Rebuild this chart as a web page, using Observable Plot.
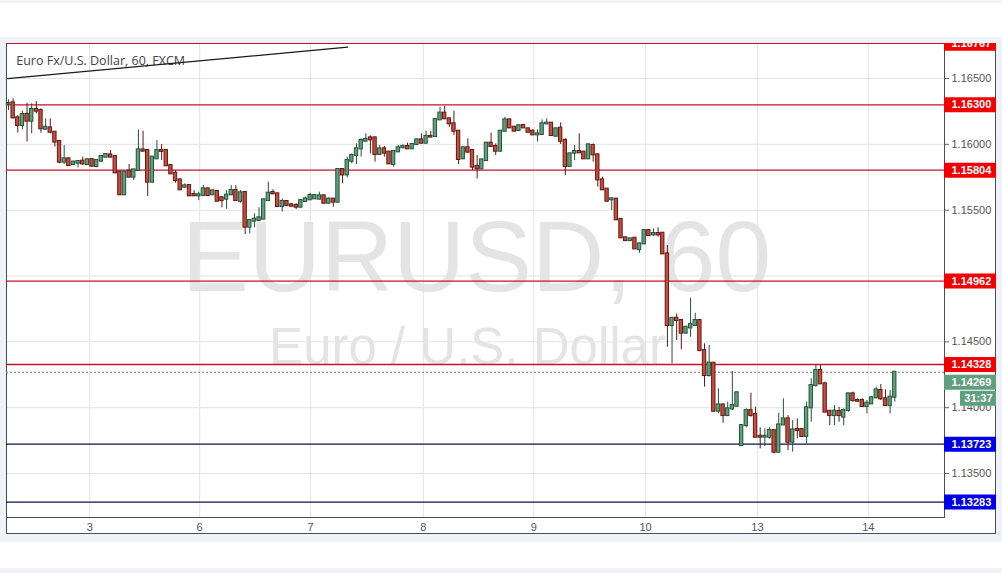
<!DOCTYPE html>
<html><head><meta charset="utf-8">
<script src="https://cdn.jsdelivr.net/npm/d3@7"></script>
<script src="https://cdn.jsdelivr.net/npm/@observablehq/plot@0.6"></script>
<style>
html,body{margin:0;padding:0;background:#eff2f6;}
#wrap{position:relative;width:1002px;height:573px;overflow:hidden;background:#eff2f6;}
.strip{position:absolute;left:0;width:1002px;background:#fff;}
#box{position:absolute;left:6px;top:43px;width:988px;height:489px;border:1px solid #4d4d4d;background:#fff;}
#chart{position:absolute;left:0;top:43px;}
</style></head><body>
<div id="wrap">
<div class="strip" style="top:3px;height:34px"></div>
<div class="strip" style="top:542px;height:26px"></div>
<div id="box"></div>
<div id="chart"></div>
</div>
<script>
// Hourly EUR/USD candles (FXCM, 60)
const opens = [
1.16305,1.16315,1.16201,1.16143,1.16227,1.16176,1.16265,1.16257,1.16115,1.16125,
1.16092,1.16022,1.15865,1.15890,1.15847,1.15857,1.15872,1.15847,1.15885,1.15832,
1.15872,1.15903,1.15920,1.15908,1.15789,1.15617,1.15796,1.15751,1.15801,1.15958,
1.15953,1.15713,1.15890,1.15953,1.15953,1.15839,1.15781,1.15730,1.15675,1.15687,
1.15619,1.15609,1.15611,1.15662,1.15617,1.15642,1.15594,1.15584,1.15617,1.15649,
1.15568,1.15634,1.15371,1.15417,1.15422,1.15432,1.15573,1.15634,1.15624,1.15528,
1.15566,1.15541,1.15536,1.15523,1.15566,1.15579,1.15586,1.15584,1.15609,1.15553,
1.15584,1.15561,1.15809,1.15768,1.15872,1.15915,1.15966,1.16024,1.16049,1.16049,
1.15923,1.15966,1.15941,1.15847,1.15943,1.15974,1.15984,1.15966,1.15999,1.16034,
1.16009,1.16060,1.16060,1.16186,1.16237,1.16194,1.16156,1.16100,1.15890,1.15974,
1.15953,1.15832,1.15814,1.15877,1.16009,1.15984,1.15948,1.16100,1.16186,1.16130,
1.16105,1.16143,1.16118,1.16100,1.16072,1.16075,1.16156,1.16161,1.16062,1.16123,
1.16029,1.15832,1.15933,1.15946,1.15941,1.15890,1.15991,1.15920,1.15730,1.15660,
1.15579,1.15584,1.15430,1.15290,1.15269,1.15287,1.15201,1.15244,1.15345,1.15312,
1.15323,1.15325,1.15168,1.14624,1.14679,1.14662,1.14566,1.14606,1.14624,1.14662,
1.14434,1.14244,1.14338,1.13973,1.14021,1.13940,1.13991,1.14011,1.13712,1.13864,
1.13978,1.13948,1.13783,1.13776,1.13776,1.13826,1.13662,1.13869,1.13915,1.13738,
1.13834,1.13834,1.13781,1.13999,1.14168,1.14282,1.14181,1.13973,1.13940,1.13971,
1.13928,1.13978,1.14105,1.14054,1.14054,1.14009,1.14029,1.14075,1.14130,1.14067,
1.14016,1.14080];
const highs = [
1.16338,1.16346,1.16219,1.16252,1.16313,1.16308,1.16325,1.16270,1.16194,1.16194,
1.16092,1.16024,1.15991,1.15890,1.15872,1.15877,1.15903,1.15890,1.15890,1.15882,
1.15915,1.15928,1.15953,1.15908,1.15789,1.15794,1.15847,1.15811,1.16110,1.16100,
1.15958,1.15908,1.16029,1.15999,1.15958,1.15847,1.15801,1.15736,1.15700,1.15692,
1.15649,1.15637,1.15687,1.15667,1.15652,1.15647,1.15604,1.15649,1.15687,1.15687,
1.15649,1.15637,1.15427,1.15472,1.15518,1.15584,1.15713,1.15655,1.15629,1.15586,
1.15571,1.15548,1.15548,1.15579,1.15599,1.15629,1.15617,1.15637,1.15614,1.15594,
1.15589,1.15814,1.15814,1.15903,1.15928,1.16004,1.16042,1.16080,1.16065,1.16055,
1.15991,1.15984,1.15946,1.15951,1.15991,1.15996,1.16009,1.16004,1.16042,1.16080,
1.16100,1.16098,1.16194,1.16282,1.16288,1.16199,1.16252,1.16105,1.15979,1.16042,
1.15958,1.15915,1.15887,1.16014,1.16085,1.16004,1.16105,1.16206,1.16191,1.16136,
1.16146,1.16148,1.16123,1.16110,1.16110,1.16186,1.16194,1.16166,1.16123,1.16163,
1.16042,1.15933,1.15991,1.16080,1.15946,1.16004,1.16004,1.15928,1.15751,1.15665,
1.15591,1.15589,1.15435,1.15295,1.15287,1.15292,1.15249,1.15350,1.15350,1.15358,
1.15366,1.15330,1.15231,1.14685,1.14712,1.14667,1.14616,1.14831,1.14717,1.14667,
1.14485,1.14472,1.14343,1.14143,1.14026,1.14042,1.14275,1.14118,1.13869,1.13991,
1.14110,1.14004,1.13847,1.13839,1.13847,1.13831,1.13958,1.14067,1.13940,1.13902,
1.13915,1.13839,1.14042,1.14219,1.14325,1.14320,1.14194,1.13973,1.14016,1.14004,
1.13991,1.14110,1.14118,1.14067,1.14067,1.14054,1.14085,1.14156,1.14176,1.14135,
1.14130,1.14272];
const lows = [
1.16257,1.16194,1.16085,1.16110,1.16017,1.16080,1.16232,1.16085,1.16110,1.16080,
1.15979,1.15852,1.15847,1.15832,1.15839,1.15822,1.15839,1.15842,1.15829,1.15822,
1.15865,1.15898,1.15898,1.15776,1.15611,1.15611,1.15746,1.15725,1.15796,1.15948,
1.15604,1.15708,1.15885,1.15877,1.15832,1.15771,1.15705,1.15649,1.15670,1.15604,
1.15604,1.15573,1.15606,1.15606,1.15611,1.15563,1.15518,1.15508,1.15611,1.15568,
1.15553,1.15315,1.15320,1.15366,1.15417,1.15427,1.15568,1.15619,1.15523,1.15485,
1.15530,1.15523,1.15505,1.15518,1.15561,1.15573,1.15581,1.15579,1.15548,1.15548,
1.15523,1.15556,1.15700,1.15746,1.15852,1.15847,1.15903,1.16022,1.15928,1.15865,
1.15915,1.15903,1.15847,1.15827,1.15938,1.15966,1.15961,1.15961,1.15996,1.16004,
1.16004,1.16052,1.16055,1.16181,1.16189,1.16130,1.16067,1.15847,1.15885,1.15928,
1.15801,1.15738,1.15809,1.15872,1.15979,1.15915,1.15943,1.16092,1.16120,1.16095,
1.16100,1.16120,1.16087,1.16067,1.16017,1.16067,1.16148,1.16062,1.16057,1.15999,
1.15763,1.15827,1.15877,1.15928,1.15885,1.15885,1.15865,1.15675,1.15649,1.15563,
1.15498,1.15422,1.15285,1.15264,1.15264,1.15201,1.15173,1.15239,1.15302,1.15302,
1.15295,1.15163,1.14459,1.14333,1.14510,1.14439,1.14560,1.14535,1.14619,1.14424,
1.14156,1.14232,1.13968,1.13953,1.13882,1.13933,1.13978,1.14006,1.13705,1.13847,
1.13928,1.13771,1.13687,1.13705,1.13763,1.13649,1.13657,1.13864,1.13674,1.13662,
1.13763,1.13776,1.13725,1.13890,1.14156,1.14176,1.13966,1.13864,1.13864,1.13890,
1.13864,1.13966,1.14042,1.14042,1.14004,1.13953,1.14024,1.14067,1.14054,1.14011,
1.13953,1.14042];
const closes = [
1.16310,1.16201,1.16143,1.16227,1.16176,1.16265,1.16252,1.16118,1.16130,1.16092,
1.16017,1.15865,1.15890,1.15839,1.15865,1.15870,1.15852,1.15882,1.15834,1.15877,
1.15908,1.15923,1.15903,1.15784,1.15617,1.15789,1.15751,1.15806,1.15958,1.15948,
1.15713,1.15903,1.15953,1.15946,1.15837,1.15776,1.15725,1.15655,1.15685,1.15609,
1.15609,1.15617,1.15662,1.15611,1.15647,1.15568,1.15573,1.15614,1.15649,1.15573,
1.15632,1.15371,1.15422,1.15432,1.15442,1.15579,1.15629,1.15624,1.15528,1.15566,
1.15536,1.15530,1.15523,1.15573,1.15586,1.15611,1.15611,1.15609,1.15553,1.15584,
1.15561,1.15809,1.15768,1.15877,1.15915,1.15966,1.16029,1.16037,1.16034,1.15923,
1.15966,1.15933,1.15852,1.15946,1.15974,1.15984,1.15966,1.15999,1.16034,1.16009,
1.16060,1.16055,1.16189,1.16237,1.16194,1.16156,1.16100,1.15885,1.15974,1.15941,
1.15827,1.15814,1.15882,1.16009,1.15984,1.15948,1.16100,1.16186,1.16125,1.16100,
1.16141,1.16125,1.16092,1.16072,1.16080,1.16156,1.16161,1.16067,1.16118,1.16024,
1.15832,1.15928,1.15946,1.15936,1.15890,1.15996,1.15920,1.15730,1.15655,1.15568,
1.15586,1.15427,1.15290,1.15269,1.15282,1.15206,1.15244,1.15345,1.15307,1.15323,
1.15312,1.15168,1.14624,1.14679,1.14662,1.14566,1.14611,1.14631,1.14662,1.14434,
1.14244,1.14338,1.13973,1.14021,1.13940,1.13991,1.14016,1.14113,1.13864,1.13978,
1.13940,1.13776,1.13776,1.13783,1.13826,1.13662,1.13869,1.13915,1.13738,1.13831,
1.13826,1.13781,1.13999,1.14168,1.14282,1.14181,1.13966,1.13940,1.13973,1.13940,
1.13978,1.14105,1.14054,1.14049,1.14009,1.14034,1.14075,1.14135,1.14067,1.14016,
1.14080,1.14269];

// x-axis: candle index where each day begins, with its label
const dayTicks = [17.5, 41.2, 65.1, 89.4, 113.2, 137.3, 161.4, 185.3];
const dayLabels = ["3","6","7","8","9","10","13","14"];
// price axis ticks (grid) and the ones whose labels are visible
const priceTicks = [1.135, 1.140, 1.145, 1.150, 1.155, 1.160, 1.165];
const priceLabelTicks = [1.135, 1.140, 1.145, 1.155, 1.160, 1.165];
// drawn levels
const redLevels = [1.16767, 1.16300, 1.15804, 1.14962, 1.14328];
const blueLevels = [1.13723, 1.13283];
const lastPrice = 1.14269;
const countdown = "31:37";
// trend line end points (candle index, price)
const trendIdx = [-0.2, 73.1];
const trendPrice = [1.16500, 1.16738];

const titleText = "Euro Fx/U.S. Dollar, 60, FXCM";
const watermark1 = "EURUSD, 60";
const watermark2 = "Euro / U.S. Dollar";

const candles = opens.map((o, i) => ({i, o, h: highs[i], l: lows[i], c: closes[i]}));
const trend = trendIdx.map((x, k) => ({x, y: trendPrice[k]}));
const isUp = d => d.c >= d.o;
const UP_FILL = "#62a07d", UP_LINE = "#225437", DN_FILL = "#cc4a3e", DN_LINE = "#5b1a13";
const fmt = d => d.toFixed(5);

const chart = Plot.plot({
  width: 1002, height: 530,
  marginLeft: 6, marginRight: 58, marginTop: 0, marginBottom: 56,
  style: {background: "transparent", overflow: "hidden", fontFamily: "'Liberation Sans', Arial, sans-serif"},
  x: {domain: [-0.43, 201.72], axis: null},
  y: {domain: [1.13166, 1.16766], axis: null},
  color: {type: "identity"},
  marks: [
    Plot.text([watermark1], {text: d => d, frameAnchor: "top", dx: 1, dy: 215, lineAnchor: "middle", fontSize: 100, fill: "#e4e4e4"}),
    Plot.text([watermark2], {text: d => d, frameAnchor: "top", dx: -8, dy: 304, lineAnchor: "middle", fontSize: 51, fill: "#e4e4e4"}),
    Plot.ruleX(dayTicks, {x: d => d, stroke: "#e4e4e4"}),
    Plot.ruleY(priceTicks, {y: d => d, stroke: "#e4e4e4"}),
    Plot.frame({stroke: "#4d4d4d"}),
    Plot.text([titleText], {text: d => d, frameAnchor: "top-left", textAnchor: "start", lineAnchor: "top", dx: 9.7, dy: 12.5, fontSize: 12.5, fill: "#444", fontFamily: "'Open Sans', sans-serif"}),
    Plot.line(trend, {x: "x", y: "y", stroke: "#1a1a1a", strokeWidth: 1.3}),
    Plot.ruleY(redLevels, {y: d => d, stroke: "#c8102e", strokeWidth: 1.3}),
    Plot.ruleY(blueLevels, {y: d => d, stroke: "#10104d", strokeWidth: 1.2}),
    Plot.ruleY([lastPrice], {y: d => d, stroke: "#777", strokeDasharray: "2,2"}),
    Plot.ruleX(candles, {x: "i", y1: "l", y2: "h", stroke: d => isUp(d) ? UP_LINE : DN_LINE, strokeWidth: 1}),
    Plot.rect(candles, {x1: d => d.i - 0.36, x2: d => d.i + 0.36, y1: "o", y2: "c", insetTop: -0.5, insetBottom: -0.5,
      fill: d => isUp(d) ? UP_FILL : DN_FILL, stroke: d => isUp(d) ? UP_LINE : DN_LINE, strokeWidth: 1}),
    Plot.axisX(dayTicks, {anchor: "bottom", tickFormat: d => dayLabels[dayTicks.indexOf(d)], tickSize: 0, tickPadding: 6, fontSize: 11, fill: "#555"}),
    Plot.axisY(priceTicks, {anchor: "right", tickFormat: () => "", tickSize: 4, tickPadding: 3, stroke: "#666"}),
    Plot.axisY(priceLabelTicks, {anchor: "right", tickFormat: fmt, tickSize: 0, tickPadding: 7, fontSize: 11, fill: "#555"}),
    Plot.ruleY(redLevels, {y: d => d, stroke: "#f20000", strokeWidth: 15, insetLeft: 938, insetRight: -52}),
    Plot.text(redLevels, {y: d => d, text: fmt, frameAnchor: "right", textAnchor: "start", dx: 7, fill: "white", fontWeight: "bold", fontSize: 11}),
    Plot.ruleY(blueLevels, {y: d => d, stroke: "#0000e6", strokeWidth: 15, insetLeft: 938, insetRight: -52}),
    Plot.text(blueLevels, {y: d => d, text: fmt, frameAnchor: "right", textAnchor: "start", dx: 7, fill: "white", fontWeight: "bold", fontSize: 11}),
    Plot.ruleY([lastPrice], {y: d => d, dy: 10, stroke: "#5f9f80", strokeWidth: 15, insetLeft: 938, insetRight: -52}),
    Plot.text([lastPrice], {y: d => d, dy: 10, text: fmt, frameAnchor: "right", textAnchor: "start", dx: 7, fill: "white", fontWeight: "bold", fontSize: 11}),
    Plot.ruleY([lastPrice], {y: d => d, dy: 26, stroke: "#5f9f80", strokeWidth: 15, insetLeft: 954, insetRight: -52}),
    Plot.text([countdown], {y: () => lastPrice, dy: 26, text: d => d, frameAnchor: "right", textAnchor: "end", dx: 48, fill: "white", fontWeight: "bold", fontSize: 11})
  ]
});
document.getElementById("chart").append(chart);
</script>
</body></html>
